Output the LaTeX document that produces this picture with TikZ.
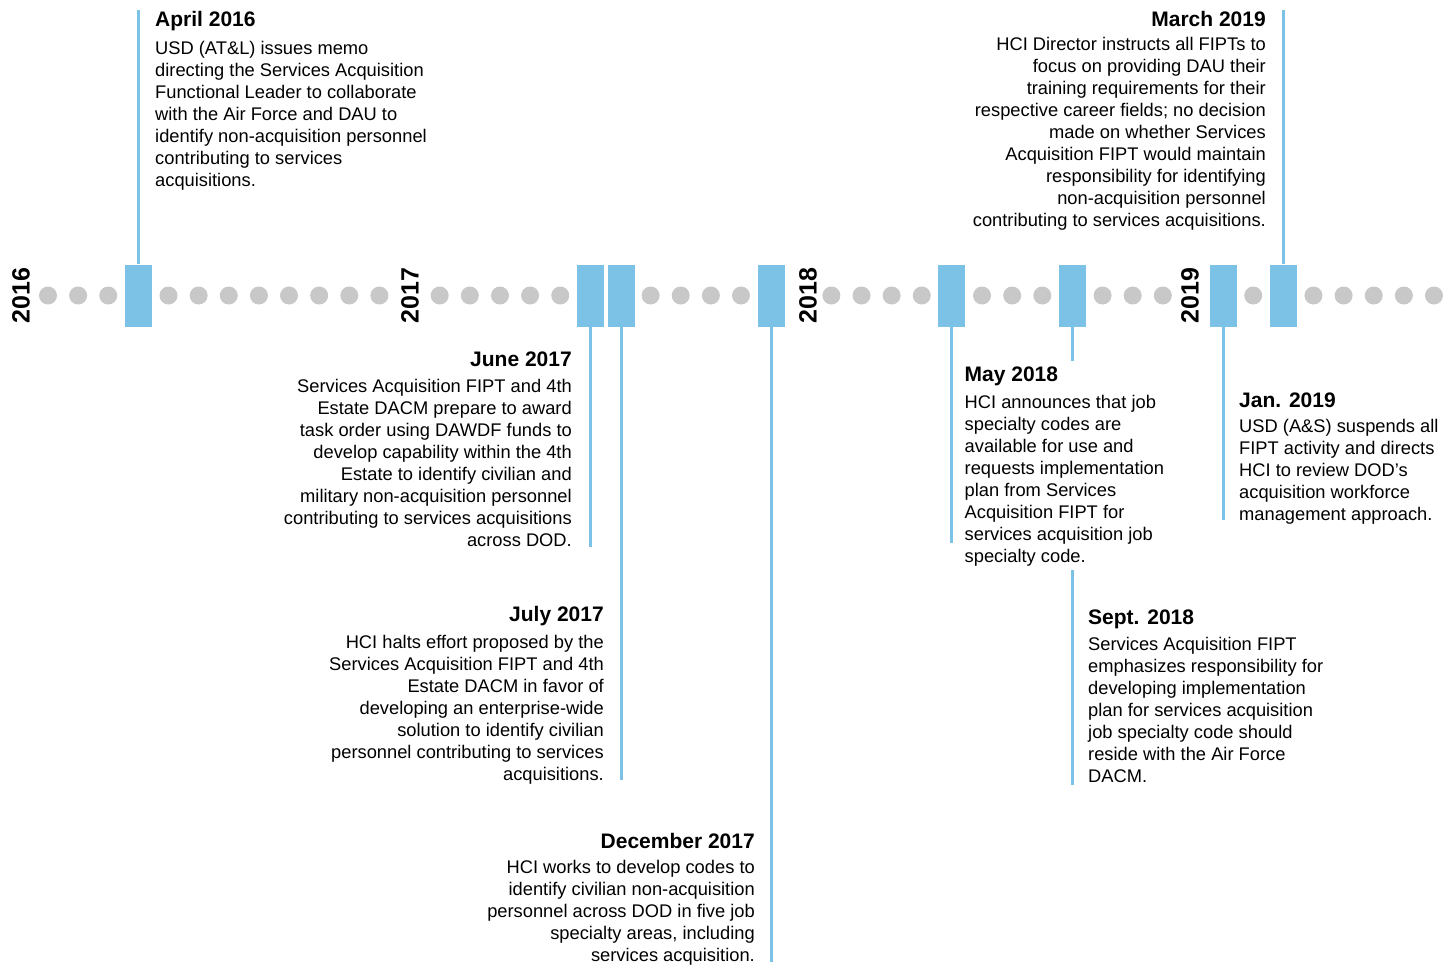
\documentclass[tikz,border=0pt]{standalone}
\usepackage{fontspec}
\setmainfont{Liberation Sans}
\definecolor{tlblue}{RGB}{124,194,230}
\definecolor{tlgray}{RGB}{200,200,200}
\newcommand{\evtitle}[1]{{\fontsize{21}{22}\selectfont\bfseries\rule{0pt}{16pt}#1}}
\begin{document}
\begin{tikzpicture}[x=1pt,y=-1pt,
  dot/.style={circle,fill=tlgray,minimum size=18pt,inner sep=0pt},
  evbox/.style={rectangle,fill=tlblue,minimum width=27pt,minimum height=62pt,inner sep=0pt},
  stem/.style={draw=tlblue,line width=3pt},
  yearlbl/.style={rotate=90,font=\fontsize{25}{25}\selectfont\bfseries,inner sep=0pt},
  evtext/.style={inner sep=0pt,font=\fontsize{18.3}{22}\selectfont}]
\useasboundingbox[fill=white] (0,0) rectangle (1452,969);
% dots
\foreach \k in {0,...,46}{%
  \ifnum\k=12 \else\ifnum\k=25 \else\ifnum\k=38 \else
    \node[dot] (d\k) at ({48+30.13*\k},295.5) {};
  \fi\fi\fi}
% year labels
\node[yearlbl] (y16) at (21,295.5) {2016};
\node[yearlbl] (y17) at (410,295.5) {2017};
\node[yearlbl] (y18) at (808,295.5) {2018};
\node[yearlbl] (y19) at (1190,295.5) {2019};
% event boxes
\node[evbox] (apr16) at ({48+30.13*3},295.5) {};
\node[evbox] (jun17) at ({48+30.13*18},295.5) {};
\node[evbox] (jul17) at ({48+30.13*19+1},295.5) {};
\node[evbox] (dec17) at ({48+30.13*24},295.5) {};
\node[evbox] (may18) at ({48+30.13*30},295.5) {};
\node[evbox] (sep18) at ({48+30.13*34},295.5) {};
\node[evbox] (jan19) at ({48+30.13*39},295.5) {};
\node[evbox] (mar19) at ({48+30.13*41},295.5) {};
% texts
\node[evtext,anchor=north west,align=left] (tapr16) at (155,10) {\evtitle{April 2016}\\[6pt]
USD (AT\&L) issues memo\\
directing the Services Acquisition\\
Functional Leader to collaborate\\
with the Air Force and DAU to\\
identify non-acquisition personnel\\
contributing to services\\
acquisitions.};
\node[evtext,anchor=north east,align=right] (tmar19) at (1266,10) {\evtitle{March 2019}\\[2.5pt]
HCI Director instructs all FIPTs to\\
focus on providing DAU their\\
training requirements for their\\
respective career fields; no decision\\
made on whether Services\\
Acquisition FIPT would maintain\\
responsibility for identifying\\
non-acquisition personnel\\
contributing to services acquisitions.};
\node[evtext,anchor=north east,align=right] (tjun17) at (572,350) {\evtitle{June 2017}\\[4pt]
Services Acquisition FIPT and 4th\\
Estate DACM prepare to award\\
task order using DAWDF funds to\\
develop capability within the 4th\\
Estate to identify civilian and\\
military non-acquisition personnel\\
contributing to services acquisitions\\
across DOD.};
\node[evtext,anchor=north east,align=right] (tjul17) at (604,605) {\evtitle{July 2017}\\[5pt]
HCI halts effort proposed by the\\
Services Acquisition FIPT and 4th\\
Estate DACM in favor of\\
developing an enterprise-wide\\
solution to identify civilian\\
personnel contributing to services\\
acquisitions.};
\node[evtext,anchor=north east,align=right] (tdec17) at (755,832) {\evtitle{December 2017}\\[3pt]
HCI works to develop codes to\\
identify civilian non-acquisition\\
personnel across DOD in five job\\
specialty areas, including\\
services acquisition.};
\node[evtext,anchor=north west,align=left] (tmay18) at (964.5,365) {\evtitle{May 2018}\\[5pt]
HCI announces that job\\
specialty codes are\\
available for use and\\
requests implementation\\
plan from Services\\
Acquisition FIPT for\\
services acquisition job\\
specialty code.};
\node[evtext,anchor=north west,align=left] (tsep18) at (1088,608) {\evtitle{Sept. 2018}\\[4.5pt]
Services Acquisition FIPT\\
emphasizes responsibility for\\
developing implementation\\
plan for services acquisition\\
job specialty code should\\
reside with the Air Force\\
DACM.};
\node[evtext,anchor=north west,align=left] (tjan19) at (1239,391) {\evtitle{Jan. 2019}\\[3pt]
USD (A\&S) suspends all\\
FIPT activity and directs\\
HCI to review DOD’s\\
acquisition workforce\\
management approach.};
% stem end points
\coordinate (apr16end) at ({48+30.13*3},10);
\coordinate (mar19end) at ({48+30.13*41},10);
\coordinate (jun17end) at ({48+30.13*18},547);
\coordinate (jul17end) at ({48+30.13*19+1},780);
\coordinate (dec17end) at ({48+30.13*24},962);
\coordinate (may18end) at ({48+30.13*30},543);
\coordinate (sep18mid) at ({48+30.13*34},361);
\coordinate (sep18a) at ({48+30.13*34},570);
\coordinate (sep18b) at ({48+30.13*34},785);
\coordinate (jan19end) at ({48+30.13*39},520);
% stems
\draw[stem] (apr16.north) -- (apr16end);
\draw[stem] (mar19.north) -- (mar19end);
\draw[stem] (jun17.south) -- (jun17end);
\draw[stem] (jul17.south) -- (jul17end);
\draw[stem] (dec17.south) -- (dec17end);
\draw[stem] (may18.south) -- (may18end);
\draw[stem] (sep18.south) -- (sep18mid);
\draw[stem] (sep18a) -- (sep18b);
\draw[stem] (jan19.south) -- (jan19end);
\end{tikzpicture}
\end{document}
